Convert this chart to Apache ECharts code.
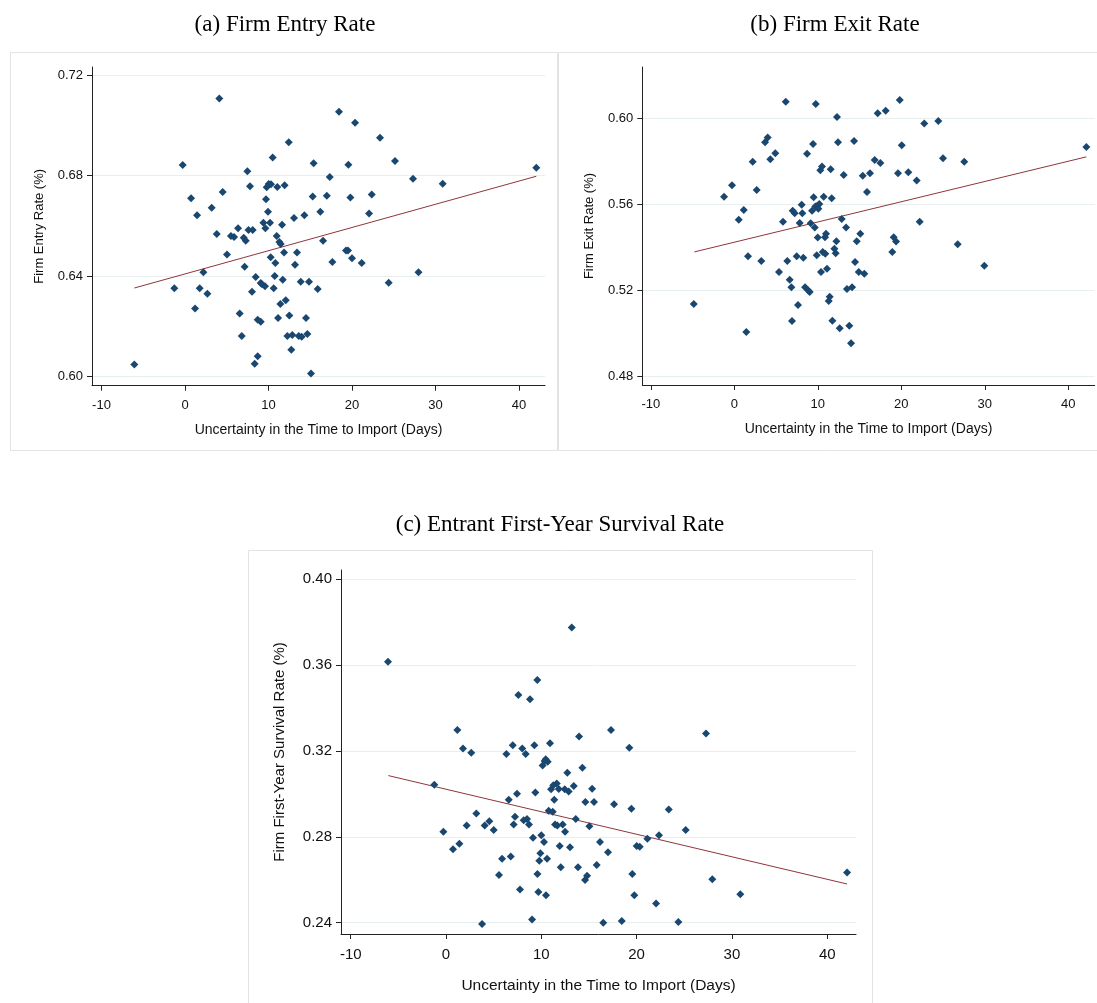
<!DOCTYPE html>
<html><head><meta charset="utf-8">
<script src="https://cdn.jsdelivr.net/npm/echarts@6/dist/echarts.min.js"></script>
<style>html,body{margin:0;padding:0;background:#fff}#c{width:1097px;height:1003px}</style>
</head><body><div id="c"></div>
<script>
// ---------- DATA ----------
const xTicks = [-10, 0, 10, 20, 30, 40];
const entryTicks = [0.60, 0.64, 0.68, 0.72];
const exitTicks = [0.48, 0.52, 0.56, 0.60];
const survivalTicks = [0.24, 0.28, 0.32, 0.36, 0.40];

const entryPoints = [
[4.11,0.7108],[-0.28,0.6843],[7.47,0.6818],[12.42,0.6933],[10.5,0.6873],[15.4,0.685],[0.72,0.671],[4.51,0.6735],
[3.19,0.6673],[1.44,0.6643],[7.78,0.6758],[9.78,0.6754],[10.02,0.6767],[10.3,0.6766],[11.05,0.6755],[11.93,0.6762],
[9.7,0.6706],[9.94,0.6657],[9.38,0.6613],[10.18,0.6613],[11.62,0.6605],[13.05,0.6632],[14.29,0.6643],[15.29,0.6717],
[6.35,0.6591],[7.6,0.6584],[8.1,0.6584],[9.62,0.6591],[18.44,0.7055],[20.36,0.7011],[23.35,0.6951],[19.56,0.6844],
[25.15,0.6859],[17.33,0.6795],[27.3,0.6788],[30.86,0.6768],[42.07,0.6832],[16.98,0.672],[19.8,0.6713],[22.36,0.6725],
[16.2,0.6657],[22.04,0.665],[-6.07,0.6048],[-1.28,0.6352],[1.2,0.6271],[1.76,0.6352],[2.2,0.6416],[2.68,0.633],
[3.8,0.6568],[5.03,0.6486],[5.5,0.656],[5.87,0.6556],[7.03,0.6553],[7.27,0.6541],[10.98,0.656],[11.3,0.6536],
[11.46,0.6528],[10.26,0.6475],[10.82,0.6453],[11.86,0.6494],[13.41,0.6494],[13.17,0.6446],[7.14,0.6438],[8.46,0.6397],
[10.74,0.6401],[8.02,0.6338],[9.06,0.6373],[9.22,0.6368],[9.58,0.636],[10.62,0.6352],[11.7,0.6386],[13.86,0.6378],
[14.85,0.6378],[11.42,0.6289],[12.06,0.6304],[6.55,0.6251],[8.7,0.6227],[9.07,0.6219],[11.14,0.6234],[12.49,0.6244],
[14.49,0.6234],[6.79,0.6162],[12.26,0.6162],[12.85,0.6166],[13.62,0.6162],[13.97,0.6159],[14.65,0.617],[12.73,0.6107],
[8.7,0.6081],[8.34,0.6051],[15.09,0.6013],[16.53,0.6541],[17.65,0.6457],[19.28,0.6502],[19.52,0.6502],[20.0,0.6471],
[21.16,0.6453],[27.96,0.6416],[24.39,0.6374],[15.89,0.6349]
];
const entryFit = [[-6.07,0.6353],[42.07,0.6798]];

const exitPoints = [
[6.16,0.6078],[9.75,0.6068],[12.3,0.6008],[4.0,0.5912],[3.68,0.589],[9.43,0.5882],[12.42,0.589],[14.34,0.5896],
[4.91,0.5839],[4.31,0.5811],[8.71,0.5837],[2.2,0.5799],[10.5,0.5777],[10.3,0.576],[11.54,0.5765],[13.1,0.5738],
[15.38,0.5734],[16.25,0.5746],[15.89,0.5659],[-0.28,0.569],[2.68,0.5668],[-1.23,0.5637],[1.13,0.5575],[0.53,0.5529],
[9.5,0.5634],[10.7,0.5637],[11.66,0.563],[8.07,0.5599],[6.99,0.5572],[7.23,0.556],[8.14,0.556],[9.31,0.5572],
[9.7,0.5591],[9.94,0.5595],[10.18,0.5603],[10.06,0.5581],[5.83,0.552],[7.83,0.5515],[9.15,0.5513],[9.63,0.5493],
[12.86,0.5533],[13.38,0.5493],[19.81,0.6086],[17.17,0.6025],[18.13,0.6037],[22.75,0.5977],[24.43,0.5989],[20.05,0.5876],
[16.81,0.5808],[17.49,0.5794],[24.99,0.5816],[27.54,0.5799],[19.6,0.5746],[20.84,0.5751],[21.84,0.5712],[42.16,0.5868],
[22.2,0.552],[-4.86,0.5138],[1.44,0.5008],[1.64,0.536],[3.23,0.5338],[5.35,0.5286],[6.35,0.5338],[7.47,0.536],
[8.26,0.5353],[6.63,0.5251],[6.83,0.5216],[8.47,0.5216],[8.86,0.52],[9.03,0.5194],[7.63,0.5133],[6.91,0.5059],
[9.87,0.5365],[9.99,0.5447],[10.59,0.5379],[10.9,0.5372],[10.86,0.5448],[10.98,0.5464],[10.38,0.5286],[11.1,0.5302],
[11.98,0.5395],[12.14,0.5374],[12.22,0.543],[11.42,0.5172],[11.3,0.5152],[11.74,0.506],[12.62,0.5025],[13.77,0.5037],
[13.98,0.4955],[13.49,0.5207],[14.1,0.5216],[14.46,0.5333],[14.9,0.5286],[15.57,0.5278],[14.66,0.543],[15.09,0.5464],
[19.09,0.5448],[19.37,0.5428],[18.92,0.538],[26.75,0.5416],[29.94,0.5316]
];
const exitFit = [[-4.79,0.538],[42.16,0.5822]];

const survivalPoints = [
[-6.09,0.3615],[13.19,0.3775],[9.58,0.3531],[7.59,0.3461],[8.81,0.3441],[1.19,0.3297],[13.96,0.3267],[1.78,0.3211],
[2.65,0.3191],[6.33,0.3186],[7.0,0.3227],[8.0,0.3211],[8.36,0.3186],[9.27,0.3227],[10.91,0.3236],[10.46,0.3161],
[17.31,0.3297],[19.23,0.3215],[27.28,0.3281],[-1.23,0.3042],[-0.28,0.2823],[0.73,0.2742],[1.4,0.2767],[2.17,0.2852],
[3.18,0.2908],[4.06,0.2852],[4.54,0.2872],[5.0,0.2832],[5.88,0.2698],[6.79,0.2708],[5.56,0.2622],[3.78,0.2394],
[6.58,0.2972],[7.45,0.3001],[7.24,0.2893],[7.1,0.2857],[8.15,0.2877],[8.5,0.2883],[8.71,0.2857],[9.37,0.3006],
[10.14,0.3132],[10.35,0.3153],[10.67,0.315],[11.02,0.3022],[11.26,0.304],[11.62,0.3048],[11.83,0.3023],[12.46,0.3022],
[12.87,0.3011],[13.4,0.3037],[12.73,0.3098],[14.31,0.3122],[15.33,0.3024],[11.36,0.2972],[10.77,0.2921],[11.2,0.2917],
[14.62,0.2962],[15.53,0.2962],[13.61,0.2883],[15.04,0.2849],[11.44,0.2857],[11.68,0.2852],[12.24,0.2857],[12.49,0.2823],
[9.13,0.2796],[10.0,0.2807],[10.28,0.2776],[11.93,0.2757],[13.01,0.2751],[9.9,0.2723],[9.79,0.2688],[10.6,0.2698],
[9.59,0.2627],[12.04,0.2658],[13.85,0.2658],[14.8,0.2618],[14.59,0.2599],[15.81,0.2669],[16.16,0.2776],[7.76,0.2554],
[9.69,0.2543],[10.49,0.2528],[9.03,0.2414],[17.63,0.2952],[19.45,0.2931],[23.37,0.2927],[25.15,0.2832],[22.35,0.2807],
[21.13,0.2791],[20.01,0.2757],[20.33,0.2753],[17.0,0.2728],[19.55,0.2627],[27.94,0.2602],[30.88,0.2532],[19.76,0.2528],
[22.04,0.2489],[16.5,0.2399],[18.44,0.2408],[24.38,0.2403],[42.08,0.2633]
];
const survivalFit = [[-6.05,0.3085],[42.08,0.258]];

const panelTitles = ['(a) Firm Entry Rate', '(b) Firm Exit Rate', '(c) Entrant First-Year Survival Rate'];
const yNames = ['Firm Entry Rate (%)', 'Firm Exit Rate (%)', 'Firm First-Year Survival Rate (%)'];
const xName = 'Uncertainty in the Time to Import (Days)';

// ---------- STYLE / LAYOUT ----------
const NAVY = '#1a476f', MAROON = '#90353b', AXIS = '#222', GRID = '#e8eff1';
const SANS = 'Liberation Sans, Arial, sans-serif';
const SERIF = 'Liberation Serif, Times New Roman, serif';

const panels = [
  {grid:{left:92, top:67, width:453, height:318.7}, x:[-11.14,43.11], y:[0.5964,0.7233], yt:entryTicks, fs:13, xfs:14, yfs:13, lm:13, ygap:46, xgap:37, pts:entryPoints, fit:entryFit},
  {grid:{left:642.3, top:67, width:452.4, height:318}, x:[-11.02,43.16], y:[0.4761,0.624], yt:exitTicks, fs:13, xfs:14, yfs:13, lm:13, ygap:46, xgap:37, pts:exitPoints, fit:exitFit},
  {grid:{left:341, top:570, width:515, height:364}, x:[-11.02,43.02], y:[0.2347,0.4043], yt:survivalTicks, fs:15, xfs:15.5, yfs:15, lm:13, ygap:54, xgap:44, pts:survivalPoints, fit:survivalFit}
];

const chart = echarts.init(document.getElementById('c'), null, {renderer:'canvas'});
const option = {
  animation:false,
  backgroundColor:'#fff',
  grid: panels.map(p => Object.assign({containLabel:false, outerBoundsMode:'none'}, p.grid)),
  xAxis: panels.map((p,i) => ({
    type:'value', gridIndex:i, min:p.x[0], max:p.x[1],
    name:xName, nameLocation:'middle', nameGap:p.xgap,
    nameTextStyle:{fontFamily:SANS, fontSize:p.xfs, color:'#111'},
    axisLine:{show:true, onZero:false, lineStyle:{color:AXIS, width:1}},
    axisTick:{show:true, length:5, lineStyle:{color:AXIS}, customValues:xTicks},
    axisLabel:{fontFamily:SANS, fontSize:p.fs, color:'#111', margin:p.lm, customValues:xTicks, formatter:v=>String(v)},
    splitLine:{show:false}
  })),
  yAxis: panels.map((p,i) => ({
    type:'value', gridIndex:i, min:p.y[0], max:p.y[1],
    name:yNames[i], nameLocation:'middle', nameGap:p.ygap,
    nameTextStyle:{fontFamily:SANS, fontSize:p.yfs, color:'#111'},
    axisLine:{show:true, onZero:false, lineStyle:{color:AXIS, width:1}},
    axisTick:{show:true, length:5, lineStyle:{color:AXIS}, customValues:p.yt},
    axisLabel:{fontFamily:SANS, fontSize:p.fs, color:'#111', margin:9, customValues:p.yt, formatter:v=>v.toFixed(2)},
    splitLine:{show:true, lineStyle:{color:GRID, width:1}}
  })),
  series: [].concat(...panels.map((p,i) => ([
    {type:'scatter', xAxisIndex:i, yAxisIndex:i, data:p.pts, symbol:'diamond', symbolSize:8,
     itemStyle:{color:NAVY, opacity:1}, z:3},
    {type:'line', xAxisIndex:i, yAxisIndex:i, data:p.fit, symbol:'none',
     lineStyle:{color:MAROON, width:1}, z:2}
  ]))),
  graphic: [
    {type:'rect', shape:{x:10.5, y:52.5, width:547, height:398}, style:{fill:'none', stroke:'#e3e3e3', lineWidth:1}, z:-1},
    {type:'rect', shape:{x:558.5, y:52.5, width:560, height:398}, style:{fill:'none', stroke:'#e3e3e3', lineWidth:1}, z:-1},
    {type:'rect', shape:{x:248.5, y:550.5, width:624, height:470}, style:{fill:'none', stroke:'#e3e3e3', lineWidth:1}, z:-1},
    {type:'text', style:{text:panelTitles[0], font:'23px '+SERIF, fill:'#000', textAlign:'center', textVerticalAlign:'middle', x:285, y:25}},
    {type:'text', style:{text:panelTitles[1], font:'23px '+SERIF, fill:'#000', textAlign:'center', textVerticalAlign:'middle', x:835, y:25}},
    {type:'text', style:{text:panelTitles[2], font:'23px '+SERIF, fill:'#000', textAlign:'center', textVerticalAlign:'middle', x:560, y:525}}
  ]
};
chart.setOption(option);
</script>
</body></html>
